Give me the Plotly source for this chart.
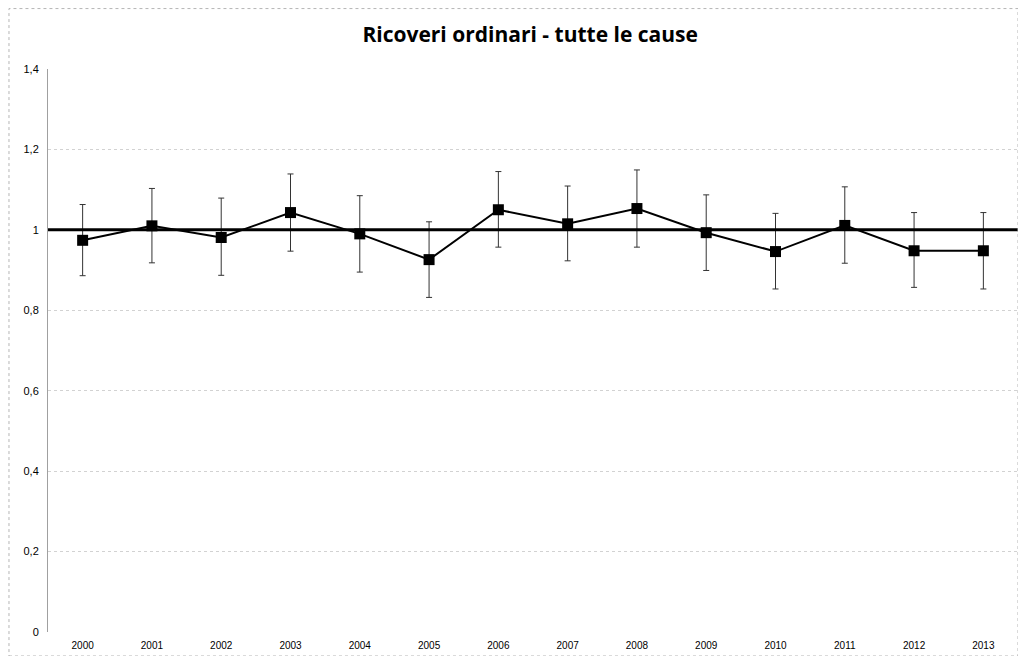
import plotly.graph_objects as go

years = ["2000", "2001", "2002", "2003", "2004", "2005", "2006",
         "2007", "2008", "2009", "2010", "2011", "2012", "2013"]
rr = [0.974, 1.010, 0.981, 1.043, 0.990, 0.926, 1.050,
      1.015, 1.053, 0.993, 0.946, 1.011, 0.948, 0.948]
upper = [1.063, 1.103, 1.079, 1.139, 1.085, 1.020, 1.145,
         1.109, 1.149, 1.087, 1.041, 1.107, 1.043, 1.043]
lower = [0.886, 0.918, 0.887, 0.947, 0.895, 0.832, 0.957,
         0.923, 0.957, 0.899, 0.853, 0.917, 0.857, 0.853]
ref_value = 1.0
y_ticks = [0, 0.2, 0.4, 0.6, 0.8, 1.0, 1.2, 1.4]
title = "Ricoveri ordinari - tutte le cause"

err_plus = [u - v for u, v in zip(upper, rr)]
err_minus = [v - l for v, l in zip(rr, lower)]

W, H = 1010, 648
L, R, T, B = 40, 0, 61, 24
pw, ph = W - L - R, H - T - B

fig = go.Figure()
fig.add_shape(type="line", xref="paper", x0=0, x1=1, yref="y",
              y0=ref_value, y1=ref_value,
              line=dict(color="black", width=3))
fig.add_shape(type="rect", xref="paper", yref="paper",
              x0=-L / pw + 0.001, x1=1.0, y0=-B / ph, y1=1 + T / ph - 0.001,
              line=dict(color="#b5b5b5", width=1, dash="dot"))
fig.add_trace(go.Scatter(
    x=years, y=rr, mode="lines+markers",
    line=dict(color="black", width=2),
    marker=dict(symbol="square", size=11, color="black"),
    error_y=dict(type="data", symmetric=False, array=err_plus,
                 arrayminus=err_minus, color="#333333",
                 thickness=1, width=3),
    showlegend=False,
))

fig.update_layout(
    width=W, height=H,
    margin=dict(l=L, r=R, t=T, b=B, autoexpand=False),
    paper_bgcolor="white", plot_bgcolor="white",
    separators=",.",
    font=dict(family="Liberation Sans", size=10, color="black"),
    title=dict(text="<b>" + title + "</b>", x=0.517, xanchor="center",
               y=1 - 27 / H, yanchor="middle",
               font=dict(family="Open Sans", size=21, color="black")),
    xaxis=dict(type="category", range=[-0.5, 13.5], showgrid=False,
               showline=False, ticks="", zeroline=False,
               ticklabelstandoff=6, tickfont=dict(size=10)),
    yaxis=dict(range=[0, 1.4], tickvals=y_ticks, showgrid=True,
               gridcolor="#d2d2d2", griddash="dot", gridwidth=1,
               zeroline=False, showline=True, linecolor="#a0a0a0",
               linewidth=1, ticks="", ticklabelstandoff=6,
               tickfont=dict(size=11)),
)
fig.write_html("out.html")
